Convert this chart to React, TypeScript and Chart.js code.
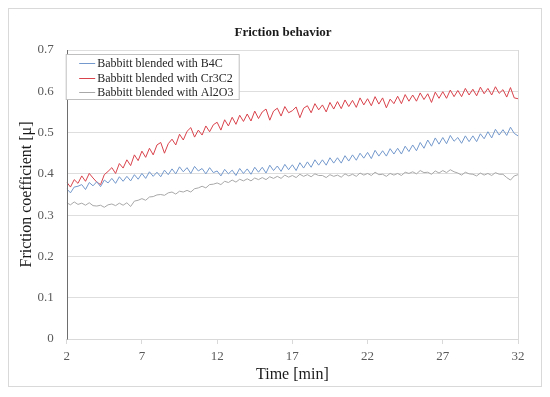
import React, { useEffect, useRef } from "react";
import { Chart, registerables } from "chart.js";

Chart.register(...registerables);

const TITLE = "Friction behavior";
const X_TITLE = "Time [min]";
const Y_TITLE = "Friction coefficient [\u03bc]";
const SERIES_NAMES = [
  "Babbitt blended with B4C",
  "Babbitt blended with Cr3C2",
  "Babbitt blended with Al2O3",
];
const SERIES_COLORS = ["#7499cc", "#d9434c", "#a8a8a8"];
const X_TICKS = [2, 7, 12, 17, 22, 27, 32];
const Y_TICKS = [0, 0.1, 0.2, 0.3, 0.4, 0.5, 0.6, 0.7];
const TIME_START = 2;
const TIME_STEP = 0.25;

// values every 0.25 min from 2 to 32
const b4c = [
  0.364, 0.354, 0.368, 0.370, 0.374, 0.362, 0.379, 0.371,
  0.381, 0.369, 0.385, 0.378, 0.389, 0.377, 0.393, 0.382,
  0.394, 0.383, 0.398, 0.387, 0.401, 0.389, 0.405, 0.394,
  0.404, 0.393, 0.409, 0.398, 0.412, 0.400, 0.417, 0.405,
  0.415, 0.401, 0.418, 0.407, 0.413, 0.400, 0.415, 0.403,
  0.407, 0.395, 0.411, 0.400, 0.409, 0.396, 0.413, 0.401,
  0.412, 0.399, 0.416, 0.404, 0.416, 0.402, 0.421, 0.408,
  0.419, 0.406, 0.423, 0.410, 0.422, 0.408, 0.427, 0.414,
  0.429, 0.416, 0.434, 0.421, 0.434, 0.421, 0.439, 0.426,
  0.439, 0.426, 0.444, 0.431, 0.446, 0.433, 0.450, 0.438,
  0.452, 0.437, 0.457, 0.443, 0.456, 0.443, 0.461, 0.448,
  0.462, 0.448, 0.467, 0.454, 0.470, 0.456, 0.476, 0.462,
  0.482, 0.467, 0.487, 0.472, 0.488, 0.473, 0.493, 0.479,
  0.488, 0.474, 0.492, 0.478, 0.492, 0.478, 0.497, 0.485,
  0.502, 0.487, 0.508, 0.494, 0.507, 0.493, 0.513, 0.498,
  0.492,
];

const cr3c2 = [
  0.380, 0.368, 0.386, 0.377, 0.395, 0.382, 0.401, 0.390,
  0.380, 0.374, 0.398, 0.406, 0.415, 0.401, 0.425, 0.414,
  0.434, 0.420, 0.446, 0.432, 0.455, 0.440, 0.462, 0.446,
  0.470, 0.476, 0.450, 0.473, 0.484, 0.470, 0.496, 0.482,
  0.503, 0.512, 0.489, 0.506, 0.494, 0.516, 0.502, 0.519,
  0.525, 0.506, 0.531, 0.516, 0.537, 0.520, 0.542, 0.527,
  0.545, 0.528, 0.552, 0.534, 0.550, 0.557, 0.530, 0.552,
  0.559, 0.540, 0.563, 0.548, 0.553, 0.562, 0.536, 0.559,
  0.565, 0.548, 0.570, 0.555, 0.567, 0.550, 0.573, 0.557,
  0.575, 0.558, 0.579, 0.563, 0.578, 0.561, 0.584, 0.567,
  0.582, 0.565, 0.587, 0.569, 0.584, 0.560, 0.581, 0.570,
  0.588, 0.570, 0.592, 0.576, 0.591, 0.576, 0.596, 0.580,
  0.594, 0.573, 0.598, 0.583, 0.599, 0.583, 0.603, 0.587,
  0.602, 0.587, 0.607, 0.591, 0.605, 0.589, 0.610, 0.594,
  0.607, 0.591, 0.611, 0.595, 0.604, 0.586, 0.609, 0.584,
  0.582,
];

const al2o3 = [
  0.330, 0.325, 0.332, 0.326, 0.329, 0.324, 0.330, 0.323,
  0.322, 0.324, 0.319, 0.325, 0.327, 0.323, 0.329, 0.324,
  0.330, 0.321, 0.334, 0.336, 0.340, 0.336, 0.344, 0.345,
  0.349, 0.350, 0.348, 0.354, 0.356, 0.351, 0.358, 0.356,
  0.360, 0.356, 0.364, 0.366, 0.370, 0.366, 0.374, 0.375,
  0.378, 0.374, 0.382, 0.379, 0.385, 0.380, 0.387, 0.383,
  0.388, 0.383, 0.390, 0.386, 0.391, 0.386, 0.393, 0.389,
  0.394, 0.389, 0.397, 0.392, 0.396, 0.391, 0.399, 0.394,
  0.398, 0.393, 0.400, 0.396, 0.396, 0.391, 0.398, 0.394,
  0.397, 0.392, 0.400, 0.395, 0.399, 0.394, 0.402, 0.397,
  0.401, 0.396, 0.404, 0.398, 0.399, 0.394, 0.401, 0.397,
  0.401, 0.396, 0.404, 0.401, 0.405, 0.400, 0.408, 0.403,
  0.404, 0.399, 0.407, 0.402, 0.408, 0.403, 0.410, 0.405,
  0.402, 0.397, 0.404, 0.400, 0.399, 0.395, 0.402, 0.397,
  0.401, 0.396, 0.403, 0.399, 0.399, 0.391, 0.385, 0.395,
  0.398,
];

const SERIES = [b4c, cr3c2, al2o3];

const FONT = "'Liberation Serif', 'Times New Roman', serif";

const toPoints = (vals: number[]) =>
  vals.map((v, i) => ({ x: TIME_START + i * TIME_STEP, y: v }));

const framePlugin = {
  id: "frame",
  beforeDatasetsDraw(chart: any) {
    const { ctx, chartArea: a } = chart;
    ctx.save();
    ctx.strokeStyle = "#d9d9d9";
    ctx.lineWidth = 1;
    ctx.beginPath();
    ctx.moveTo(Math.round(a.right) + 0.5, a.top);
    ctx.lineTo(Math.round(a.right) + 0.5, a.bottom);
    ctx.stroke();
    ctx.restore();
  },
  afterDatasetsDraw(chart: any) {
    const { ctx, chartArea: a } = chart;
    ctx.save();
    // left axis line
    ctx.strokeStyle = "#6e6e6e";
    ctx.lineWidth = 1;
    ctx.beginPath();
    ctx.moveTo(Math.round(a.left) + 0.5, a.top);
    ctx.lineTo(Math.round(a.left) + 0.5, a.bottom + 0.5);
    ctx.stroke();
    // title
    ctx.fillStyle = "#1a1a1a";
    ctx.font = `bold 13px ${FONT}`;
    ctx.textAlign = "center";
    ctx.textBaseline = "middle";
    ctx.fillText(TITLE, 274, 24);
    // legend box
    const bx = a.left - 0.5;
    const by = a.top + 4.5;
    const bw = 173;
    const bh = 45;
    ctx.fillStyle = "#ffffff";
    ctx.fillRect(bx, by, bw, bh);
    ctx.strokeStyle = "#bfbfbf";
    ctx.strokeRect(bx, by, bw, bh);
    ctx.font = `12px ${FONT}`;
    ctx.textAlign = "left";
    SERIES_NAMES.forEach((name, i) => {
      const yy = by + 8.5 + i * 14.5;
      ctx.strokeStyle = SERIES_COLORS[i];
      ctx.beginPath();
      ctx.moveTo(bx + 13, Math.round(yy) + 0.5);
      ctx.lineTo(bx + 29, Math.round(yy) + 0.5);
      ctx.stroke();
      ctx.fillStyle = "#262626";
      ctx.fillText(name, bx + 31, yy + 1);
    });
    ctx.restore();
  },
};

export default function App() {
  const ref = useRef<HTMLCanvasElement>(null);
  useEffect(() => {
    if (!ref.current) return;
    const chart = new Chart(ref.current, {
      type: "line",
      data: {
        datasets: SERIES.map((vals, i) => ({
          label: SERIES_NAMES[i],
          data: toPoints(vals),
          borderColor: SERIES_COLORS[i],
          borderWidth: 1,
          pointRadius: 0,
          tension: 0,
          fill: false,
        })),
      },
      options: {
        animation: false,
        responsive: false,
        layout: { padding: { top: 41, right: 23, left: 0, bottom: 0 } },
        plugins: {
          legend: { display: false },
          tooltip: { enabled: false },
          title: { display: false },
        },
        scales: {
          x: {
            type: "linear",
            min: 2,
            max: 32,
            afterBuildTicks: (s: any) => {
              s.ticks = X_TICKS.map((v) => ({ value: v }));
            },
            afterFit: (s: any) => {
              s.height = 47;
            },
            grid: {
              drawOnChartArea: false,
              drawTicks: true,
              tickLength: 5,
              color: "#d9d9d9",
            },
            border: { color: "#d9d9d9", width: 1 },
            ticks: {
              color: "#595959",
              font: { family: FONT, size: 13 },
              padding: 5,
              maxRotation: 0,
            },
            title: {
              display: true,
              text: X_TITLE,
              color: "#1a1a1a",
              font: { family: FONT, size: 16 },
              padding: { top: 0, bottom: 2 },
            },
          },
          y: {
            min: 0,
            max: 0.7,
            afterBuildTicks: (s: any) => {
              s.ticks = Y_TICKS.map((v) => ({ value: v }));
            },
            afterFit: (s: any) => {
              s.width = 57.7;
            },
            grid: {
              color: "#dedede",
              drawTicks: false,
            },
            border: { display: false },
            ticks: {
              color: "#595959",
              font: { family: FONT, size: 13 },
              padding: 13,
              callback: (v: any) => String(Math.round(Number(v) * 10) / 10),
            },
            title: {
              display: true,
              text: Y_TITLE,
              color: "#1a1a1a",
              font: { family: FONT, size: 16 },
              padding: { top: 8, bottom: 0 },
            },
          },
        },
      },
      plugins: [framePlugin],
    } as any);
    return () => chart.destroy();
  }, []);
  return (
    <div
      style={{
        width: 534,
        height: 379,
        border: "1px solid #d9d9d9",
        boxSizing: "border-box",
        background: "#fff",
      }}
    >
      <canvas ref={ref} width={532} height={377} style={{ display: "block" }} />
    </div>
  );
}
